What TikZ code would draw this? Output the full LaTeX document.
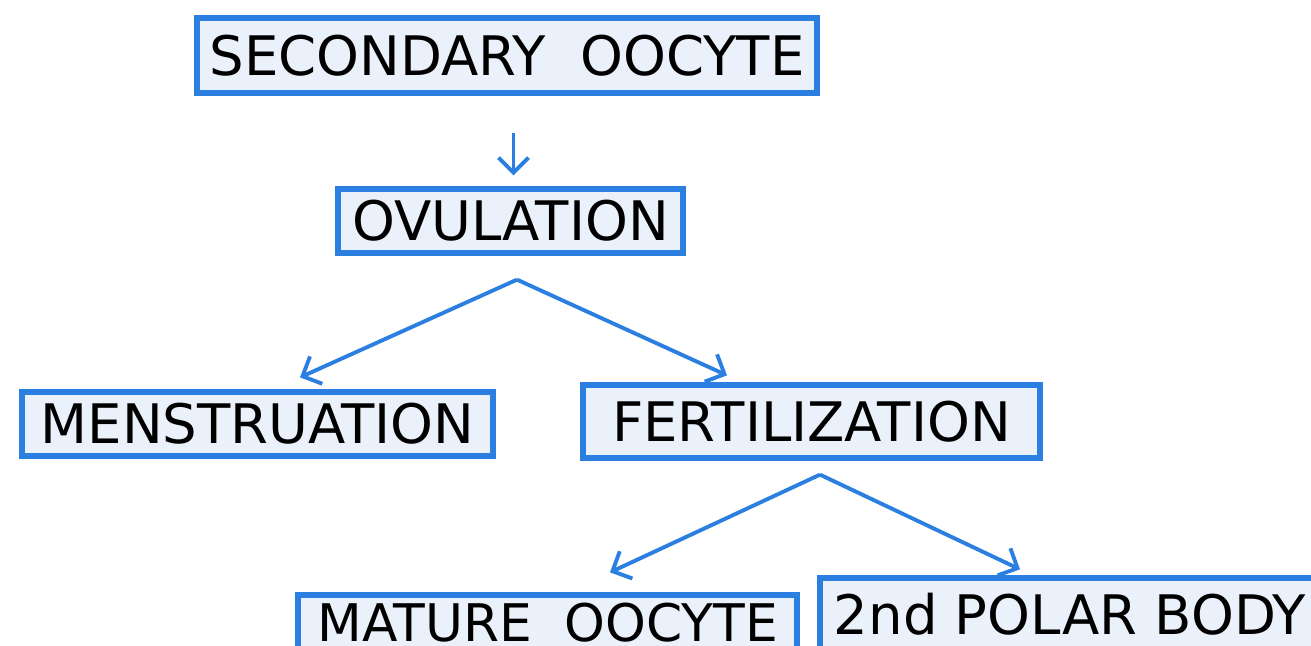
\documentclass[tikz,border=0pt]{standalone}
\usepackage{fontspec}
\setmainfont{DejaVu Sans}
\usetikzlibrary{arrows.meta}
\usetikzlibrary{positioning}
\definecolor{penblue}{HTML}{2B7FE0}
\definecolor{boxfill}{HTML}{EAF1FB}
\tikzset{
  stagebox/.style={draw=penblue,fill=boxfill,line width=3pt,inner sep=0pt,
    font=\fontsize{31}{34}\selectfont,text=black},
  flowarrow/.style={draw=penblue,line width=2.2pt,-{Straight Barb[length=0.3cm,width=0.6cm,line width=2.2pt]}}
}

\begin{document}
\begin{tikzpicture}
\clip (0,0) rectangle (26.22,-12.9);
\fill[white] (0,0) rectangle (26.22,-12.9);

\node[stagebox,minimum width=12.4cm,minimum height=1.5cm] (secoocyte) at (10.14,-1.11) {SECONDARY\ \ OOCYTE};
\node[stagebox,minimum width=6.9cm,minimum height=1.28cm] (ovulation) at (10.21,-4.42) {OVULATION};
\node[stagebox,minimum width=9.42cm,minimum height=1.28cm] (menstruation) at (5.15,-8.48) {MENSTRUATION};
\node[stagebox,minimum width=9.14cm,minimum height=1.46cm] (fertilization) at (16.23,-8.43) {FERTILIZATION};
% the two last boxes run on past the lower edge
\node[stagebox,font=\fontsize{29.5}{32}\selectfont,minimum width=9.98cm,minimum height=1.1cm] (matoocyte) at (10.95,-12.45) {MATURE\ \ OOCYTE};
\node[stagebox,minimum width=10cm,minimum height=1.44cm] (polarbody) at (21.4,-12.28) {2nd POLAR BODY};

% forks below the boxes
\coordinate (ovulfork) at ([xshift=0.13cm,yshift=-0.48cm]ovulation.south);
\coordinate (fertfork) at ([xshift=0.17cm,yshift=-0.28cm]fertilization.south);

% arrows
\draw[flowarrow,shorten <=0.74cm,shorten >=0.22cm] ([xshift=0.13cm]secoocyte.south) -- ([xshift=0.13cm]secoocyte.south |- ovulation.north);
\draw[flowarrow] (ovulfork) -- ([xshift=0.85cm,yshift=0.24cm]menstruation.north);
\draw[flowarrow] (ovulfork) -- ([xshift=-1.69cm,yshift=0.14cm]fertilization.north);
\draw[flowarrow] (fertfork) -- ([xshift=1.25cm,yshift=0.4cm]matoocyte.north);
\draw[flowarrow] (fertfork) -- ([xshift=-1.0cm,yshift=0.12cm]polarbody.north);

\end{tikzpicture}
\end{document}
